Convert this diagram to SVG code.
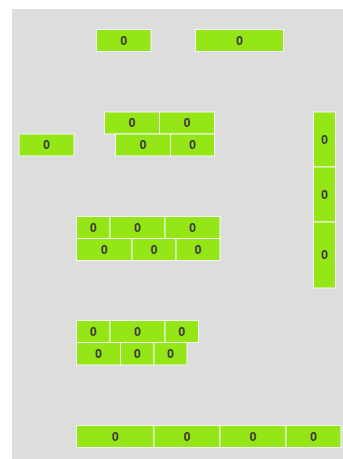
<svg xmlns="http://www.w3.org/2000/svg" width="343" height="459" viewBox="0 0 343 459">
<style>
.b rect{fill:#95e616;stroke:#f4f4f4;stroke-width:1}
.b text{font-family:"Liberation Sans",Arial,sans-serif;font-size:12.5px;font-weight:bold;fill:#3a3a3a;text-anchor:middle;dominant-baseline:central}
</style>
<rect x="12" y="9" width="331" height="450" fill="#dddddd"/>
<g class="b">
<g id="n1"><rect x="96.5" y="29.5" width="54.5" height="22"/><text x="123.75" y="40.5">0</text></g>
<g id="n2"><rect x="195.5" y="29.5" width="88" height="22"/><text x="239.5" y="40.5">0</text></g>
<g id="n3"><rect x="104.5" y="112" width="55" height="22"/><text x="132" y="123">0</text></g>
<g id="n4"><rect x="159.5" y="112" width="55" height="22"/><text x="187" y="123">0</text></g>
<g id="n5"><rect x="115.5" y="134" width="55" height="22"/><text x="143" y="145">0</text></g>
<g id="n6"><rect x="170.5" y="134" width="44" height="22"/><text x="192.5" y="145">0</text></g>
<g id="n7"><rect x="19" y="134" width="55" height="22"/><text x="46.5" y="145">0</text></g>
<g id="n8"><rect x="313.5" y="112" width="22" height="55"/><text x="324.5" y="139.5">0</text></g>
<g id="n9"><rect x="313.5" y="167" width="22" height="55"/><text x="324.5" y="194.5">0</text></g>
<g id="n10"><rect x="313.5" y="222" width="22" height="66"/><text x="324.5" y="255">0</text></g>
<g id="n11"><rect x="76.5" y="216.5" width="33.5" height="22"/><text x="93.25" y="227.5">0</text></g>
<g id="n12"><rect x="110" y="216.5" width="55" height="22"/><text x="137.5" y="227.5">0</text></g>
<g id="n13"><rect x="165" y="216.5" width="55" height="22"/><text x="192.5" y="227.5">0</text></g>
<g id="n14"><rect x="76.5" y="238.5" width="55.5" height="22"/><text x="104.25" y="249.5">0</text></g>
<g id="n15"><rect x="132" y="238.5" width="44" height="22"/><text x="154" y="249.5">0</text></g>
<g id="n16"><rect x="176" y="238.5" width="44" height="22"/><text x="198" y="249.5">0</text></g>
<g id="n17"><rect x="76.5" y="320.5" width="33.5" height="22"/><text x="93.25" y="331.5">0</text></g>
<g id="n18"><rect x="110" y="320.5" width="55" height="22"/><text x="137.5" y="331.5">0</text></g>
<g id="n19"><rect x="165" y="320.5" width="33.5" height="22"/><text x="181.75" y="331.5">0</text></g>
<g id="n20"><rect x="76.5" y="342.5" width="44" height="22.5"/><text x="98.5" y="353.75">0</text></g>
<g id="n21"><rect x="120.5" y="342.5" width="33.5" height="22.5"/><text x="137.25" y="353.75">0</text></g>
<g id="n22"><rect x="154" y="342.5" width="33" height="22.5"/><text x="170.5" y="353.75">0</text></g>
<g id="n23"><rect x="76.5" y="425.5" width="77.5" height="22"/><text x="115.25" y="436.5">0</text></g>
<g id="n24"><rect x="154" y="425.5" width="66" height="22"/><text x="187" y="436.5">0</text></g>
<g id="n25"><rect x="220" y="425.5" width="66" height="22"/><text x="253" y="436.5">0</text></g>
<g id="n26"><rect x="286" y="425.5" width="55" height="22"/><text x="313.5" y="436.5">0</text></g>
</g>
<g id="connectors"/>
</svg>
